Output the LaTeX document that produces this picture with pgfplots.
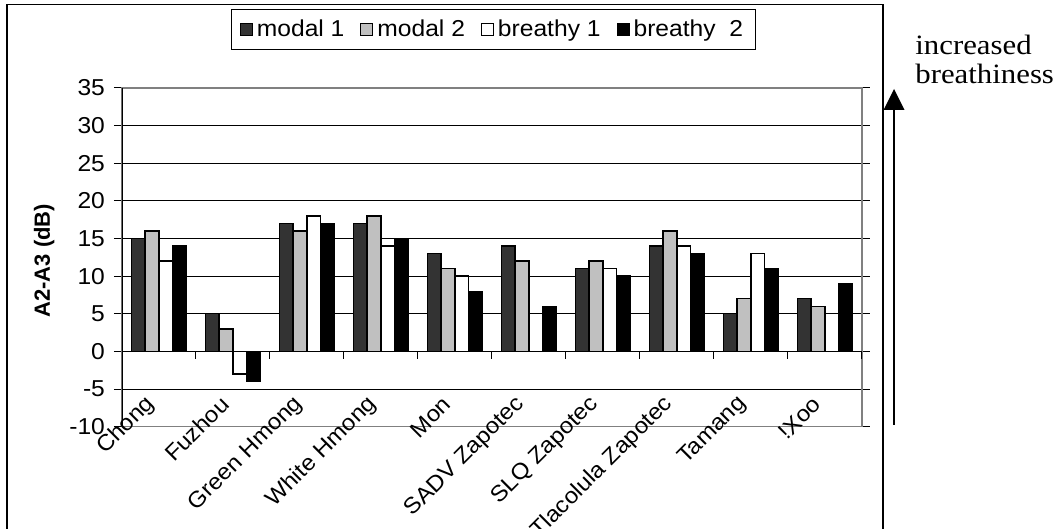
\documentclass[border=0pt]{standalone}
\usepackage{fontspec}
\setmainfont{Liberation Sans}[FakeStretch=1.07]
\newfontfamily\plainsans{Liberation Sans}
\newfontfamily\annotfont{Liberation Serif}[FakeStretch=1.1]
\usepackage{pgfplots}
\pgfplotsset{compat=1.18}
\definecolor{modalA}{HTML}{333333}
\definecolor{modalB}{HTML}{C0C0C0}
\definecolor{plotborder}{HTML}{808080}

% A2-A3 (dB) per language
\pgfplotstableread{
x  m1  m2  b1  b2
0  15  16  12  14
1  5   3   -3  -4
2  17  16  18  17
3  17  18  14  15
4  13  11  10  8
5  14  12  5   6
6  11  12  11  10
7  14  16  14  13
8  5   7   13  11
9  7   6   5   9
}\breathdata

\begin{document}
\begin{tikzpicture}
\useasboundingbox (0,0) rectangle (531pt,264.5pt);
% chart area frame (bottom edge falls outside the page)
\draw[line width=0.75pt] (3.5pt,-3pt) -- (3.5pt,262.25pt) -- (441.5pt,262.25pt) -- (441.5pt,-3pt);
\begin{axis}[
  at={(61pt,51.15pt)}, anchor=south west, scale only axis,
  width=370pt, height=169.35pt,
  ybar=0pt, bar width=6.9pt,
  xmin=-0.5, xmax=9.5, ymin=-10, ymax=35,
  xtick={0,...,9},
  xticklabels={Chong,Fuzhou,Green Hmong,White Hmong,Mon,SADV Zapotec,SLQ Zapotec,Tlacolula Zapotec,Tamang,!Xoo},
  ytick={-10,-5,...,35},
  ymajorgrids, grid style={black, line width=0.5pt},
  axis line style={plotborder, line width=0.6pt},
  x tick style={draw=none},
  y tick style={black, line width=0.5pt},
  tick align=outside, major tick length=4pt,
  /pgf/number format/assume math mode=true,
  tick label style={font=\fontsize{11.5}{13}\selectfont},
  xticklabel style={font=\fontsize{11.2}{13}\selectfont, xshift=-1.5pt, yshift=19.5pt, rotate=45, anchor=east},
  yticklabel style={anchor=east, xshift=-1pt},
  ylabel={A2-A3 (dB)},
  ylabel style={at={(axis description cs:-0.105,0.49)}, anchor=center,
    font=\plainsans\bfseries\fontsize{11}{13}\selectfont},
  legend columns=4,
  legend image code/.code={\draw[#1, line width=0.5pt] (0pt,-3pt) rectangle (6pt,3pt);},
  legend style={at={(axis description cs:0.502,1.1727)}, anchor=center,
    draw=black, line width=0.5pt, font=\fontsize{11.5}{13}\selectfont,
    /tikz/every even column/.append style={column sep=6pt},
    inner xsep=4pt, inner ysep=3pt},
]
\addplot[fill=modalA, draw=black, line width=0.7pt] table[x=x, y=m1] {\breathdata};
\addplot[fill=modalB, draw=black, line width=0.7pt] table[x=x, y=m2] {\breathdata};
\addplot[fill=white, draw=black, line width=0.7pt] table[x=x, y=b1] {\breathdata};
\addplot[fill=black, draw=black, line width=0.7pt] table[x=x, y=b2] {\breathdata};
\legend{modal 1, modal 2, breathy 1, breathy~~2}
% category ticks hang from the zero line
\pgfplotsinvokeforeach{0.5,1.5,...,9.5}{\draw[black, line width=0.5pt] (axis cs:#1,0) -- ++(0pt,-4pt);}
\draw[black, line width=0.6pt] (rel axis cs:0,0) -- (rel axis cs:0,1);
\end{axis}
% arrow and note on the right
\draw[line width=0.9pt] (447pt,52pt) -- (447pt,210pt);
\fill (441.75pt,209.5pt) -- (452.25pt,209.5pt) -- (447pt,220pt) -- cycle;
\node[anchor=base west, inner sep=0pt, font=\annotfont\fontsize{14}{16}\selectfont] at (457.5pt,237pt) {increased};
\node[anchor=base west, inner sep=0pt, font=\annotfont\fontsize{14}{16}\selectfont] at (457.5pt,222.5pt) {breathiness};
\end{tikzpicture}
\end{document}
